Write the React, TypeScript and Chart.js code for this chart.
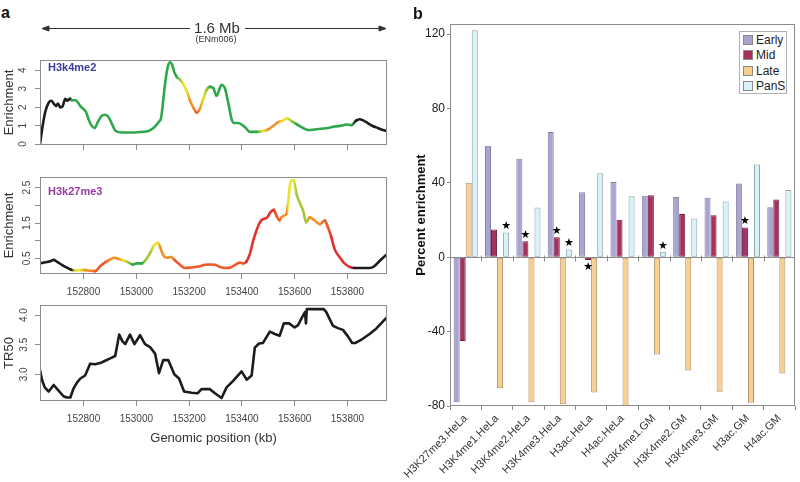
import React, { useEffect, useRef } from "react";
import { Chart, registerables } from "chart.js";

Chart.register(...registerables);

const FONT = '"Liberation Sans", Arial, Helvetica, sans-serif';
Chart.defaults.font.family = FONT;

// ---------------- Panel a data ----------------
const genomicTicks = [152800, 153000, 153200, 153400, 153600, 153800];
const h3k4me2Ticks = [0, 1, 2, 3, 4];
const h3k27me3Ticks = [0.5, 1.0, 1.5, 2.0, 2.5];
const h3k27me3Labelled = [0.5, 1.5, 2.5];
const tr50Ticks = [3.0, 3.5, 4.0];

const h3k4me2Pos = [
  152635, 152643, 152655, 152668, 152678, 152687, 152696, 152703, 152712, 152721,
  152731, 152738, 152749, 152756, 152769, 152779, 152788, 152800, 152809, 152819,
  152829, 152842, 152854, 152867, 152882, 152895, 152907, 152922, 152945, 152970,
  152995, 153021, 153046, 153065, 153084, 153094, 153102, 153111, 153121, 153129,
  153136, 153144, 153153, 153166, 153178, 153191, 153203, 153216, 153229, 153241,
  153254, 153266, 153279, 153291, 153304, 153314, 153323, 153336, 153344, 153352,
  153361, 153370, 153386, 153402, 153415, 153430, 153455, 153480, 153499, 153518,
  153537, 153556, 153571, 153588, 153607, 153626, 153651, 153676, 153701, 153726,
  153751, 153777, 153796, 153815, 153833, 153846, 153858, 153877, 153896, 153915,
  153934, 153950,
];
const h3k4me2Val = [
  0.0, 0.8, 1.75, 2.25, 2.35, 2.2, 2.06, 2.2, 1.98, 2.06,
  2.46, 2.35, 2.46, 2.38, 2.38, 2.25, 2.06, 1.9, 1.75, 1.35,
  1.03, 0.87, 1.19, 1.5, 1.59, 1.46, 1.11, 0.71, 0.63, 0.63,
  0.63, 0.66, 0.71, 0.87, 1.19, 1.43, 2.38, 3.49, 4.29, 4.44,
  4.29, 3.9, 3.65, 3.49, 3.25, 2.86, 2.38, 1.98, 1.71, 1.9,
  2.46, 2.94, 3.1, 3.05, 2.62, 2.94, 3.22, 3.01, 2.54, 1.98,
  1.35, 1.14, 1.14, 1.03, 0.87, 0.66, 0.66, 0.71, 0.79, 0.98,
  1.19, 1.27, 1.4, 1.24, 1.08, 0.92, 0.76, 0.79, 0.83, 0.87,
  0.95, 1.0, 1.06, 1.03, 1.27, 1.35, 1.3, 1.14, 0.98, 0.87,
  0.76, 0.71,
];
// replication timing class per point: K none, G early, L early-mid, Y mid, O mid-late, S late-ish, R late
const h3k4me2Timing =
  "KKKKKKKKKKKKK" + "GGGGGGGGGGGGGGGGGGGGGGGGGGGGGG" + "LYYOOSOYL" +
  "GGGGGGGGGGGGGGG" + "YOOOYYL" + "GGGGGGGGGG" + "KKKKKKKK";

const h3k27me3Pos = [
  152635, 152655, 152674, 152687, 152699, 152718, 152737, 152753, 152769, 152788,
  152806, 152825, 152844, 152863, 152882, 152901, 152917, 152932, 152951, 152970,
  152985, 153002, 153021, 153036, 153052, 153068, 153081, 153090, 153102, 153115,
  153132, 153147, 153166, 153184, 153203, 153222, 153241, 153260, 153279, 153298,
  153317, 153336, 153355, 153373, 153392, 153405, 153418, 153430, 153443, 153455,
  153468, 153480, 153496, 153508, 153521, 153531, 153543, 153550, 153559, 153569,
  153575, 153581, 153588, 153596, 153607, 153619, 153632, 153644, 153657, 153676,
  153695, 153714, 153726, 153739, 153751, 153770, 153789, 153808, 153827, 153852,
  153884, 153902, 153921, 153950,
];
const h3k27me3Val = [
  0.36, 0.39, 0.42, 0.46, 0.41, 0.32, 0.24, 0.18, 0.16, 0.17,
  0.17, 0.15, 0.14, 0.28, 0.39, 0.47, 0.52, 0.49, 0.44, 0.39,
  0.33, 0.36, 0.36, 0.46, 0.65, 0.87, 0.94, 0.82, 0.59, 0.52,
  0.54, 0.44, 0.32, 0.23, 0.24, 0.26, 0.28, 0.32, 0.33, 0.32,
  0.26, 0.23, 0.24, 0.31, 0.38, 0.36, 0.42, 0.62, 1.0, 1.28,
  1.52, 1.61, 1.66, 1.8, 1.87, 1.71, 1.57, 1.66, 1.71, 1.76,
  2.04, 2.5, 2.71, 2.71, 2.32, 2.08, 1.85, 1.52, 1.66, 1.57,
  1.47, 1.57, 1.38, 1.1, 0.77, 0.54, 0.36, 0.26, 0.23, 0.23,
  0.23, 0.28, 0.42, 0.62,
];
const h3k27me3Timing =
  "KKKKKKKK" + "YYOOSSSOOOYLGGGLLYYOOOOSS" + "SSSSSSSSSSSSS" + "RRRRRRRRR" +
  "SS" + "OOO" + "YYYY" + "LLLL" + "OOO" + "SS" + "RRRRR" + "KKKKKK";

const tr50Pos = [
  152635, 152643, 152653, 152668, 152687, 152706, 152724, 152737, 152750, 152762,
  152775, 152788, 152806, 152825, 152844, 152863, 152882, 152901, 152920, 152935,
  152947, 152958, 152976, 152993, 153014, 153033, 153052, 153071, 153086, 153102,
  153121, 153144, 153162, 153181, 153210, 153232, 153247, 153279, 153298, 153323,
  153342, 153367, 153399, 153418, 153437, 153449, 153465, 153480, 153506, 153525,
  153543, 153559, 153579, 153600, 153613, 153629, 153639, 153643, 153646, 153661,
  153710, 153720, 153745, 153764, 153783, 153802, 153818, 153831, 153858, 153884,
  153909, 153943, 153950,
];
const tr50Val = [
  3.07, 2.9, 2.78, 2.71, 2.82, 2.72, 2.63, 2.61, 2.61, 2.76,
  2.86, 2.93, 2.98, 3.18, 3.17, 3.19, 3.23, 3.27, 3.31, 3.67,
  3.56, 3.51, 3.67, 3.51, 3.66, 3.51, 3.46, 3.35, 3.02, 3.24,
  3.24, 3.0, 2.93, 2.71, 2.69, 2.68, 2.75, 2.75, 2.68, 2.6,
  2.78, 2.89, 3.05, 2.91, 2.98, 3.45, 3.52, 3.53, 3.72, 3.68,
  3.65, 3.86, 3.86, 3.79, 3.83, 3.97, 4.05, 3.86, 4.1, 4.1,
  4.1, 4.05, 3.82, 3.78, 3.75, 3.64, 3.53, 3.53, 3.6, 3.68,
  3.77, 3.93, 3.96,
];

const TIMING_COLORS: Record<string, string> = {
  K: "#1c1c1c",
  G: "#2ea84a",
  L: "#a3c83a",
  Y: "#ebe12f",
  O: "#f29029",
  S: "#ee5a2a",
  R: "#e2322c",
};

// ---------------- Panel b data ----------------
const categories = [
  "H3K27me3.HeLa", "H3K4me1.HeLa", "H3K4me2.HeLa", "H3K4me3.HeLa", "H3ac.HeLa",
  "H4ac.HeLa", "H3K4me1.GM", "H3K4me2.GM", "H3K4me3.GM", "H3ac.GM", "H4ac.GM",
];
const seriesNames = ["Early", "Mid", "Late", "PanS"];
const earlyVals = [-78, 60, 53, 67.3, 34.9, 40.5, 33, 32.4, 32, 39.6, 26.9];
const midVals = [-45, 14.9, 8.6, 10.7, -1.5, 20.2, 33.3, 23.3, 22.6, 16, 31];
const lateVals = [40.1, -70.5, -78, -79, -72.7, -80.5, -52.3, -60.9, -72.3, -78.2, -62.5];
const pansVals = [122, 13.3, 26.7, 4.1, 45.1, 32.8, 2.9, 20.8, 29.9, 49.8, 36.1];
const percentTicks = [-80, -40, 0, 40, 80, 120];
// significance stars: [category index, series index]
const starMarks = [[1, 3], [2, 1], [3, 1], [3, 3], [4, 1], [6, 3], [9, 1]];

const seriesFill = ["#a9a4d4", "#a8305f", "#f9cf90", "#d9f1f8"];
const seriesEdge = ["#858198", "#6e2040", "#a99070", "#8ea2a8"];

// ---------------- plugins ----------------
const boxPlugin = {
  id: "boxFrame",
  afterDraw(chart: any) {
    const { ctx, chartArea: a } = chart;
    ctx.save();
    ctx.strokeStyle = "#8c8c8c";
    ctx.lineWidth = 1;
    ctx.strokeRect(
      Math.round(a.left) + 0.5,
      Math.round(a.top) + 0.5,
      Math.round(a.right - a.left) - 1,
      Math.round(a.bottom - a.top) - 1
    );
    ctx.restore();
  },
};

const zeroLinePlugin = {
  id: "zeroLine",
  afterDatasetsDraw(chart: any) {
    const { ctx, chartArea: a, scales } = chart;
    const y0 = Math.round(scales.y.getPixelForValue(0)) + 0.5;
    ctx.save();
    ctx.strokeStyle = "#8c8c8c";
    ctx.lineWidth = 1;
    ctx.beginPath();
    ctx.moveTo(a.left, y0);
    ctx.lineTo(a.right, y0);
    for (let i = 1; i < categories.length; i++) {
      const xb =
        Math.round((scales.x.getPixelForValue(i - 1) + scales.x.getPixelForValue(i)) / 2) + 0.5;
      ctx.moveTo(xb, y0 - 2);
      ctx.lineTo(xb, y0 + 4);
    }
    ctx.stroke();
    ctx.restore();
  },
};

const starPlugin = {
  id: "stars",
  afterDatasetsDraw(chart: any) {
    const { ctx } = chart;
    ctx.save();
    ctx.fillStyle = "#000";
    ctx.font = '11px "DejaVu Sans", sans-serif';
    ctx.textAlign = "center";
    ctx.textBaseline = "middle";
    for (const [c, s] of starMarks) {
      const el: any = chart.getDatasetMeta(s).data[c];
      const v = chart.data.datasets[s].data[c] as number;
      const y = v >= 0 ? el.y - 6 : el.y + 7;
      ctx.fillText("\u2605", el.x, y);
    }
    ctx.restore();
  },
};

// ---------------- config builders ----------------
function lineConfig(p: any) {
  const data = p.pos.map((x: number, i: number) => ({ x, y: p.val[i] }));
  const ds: any = {
    data,
    borderColor: "#1c1c1c",
    borderWidth: 2.6,
    pointRadius: 0,
    borderCapStyle: "round",
    borderJoinStyle: "round",
    tension: 0,
  };
  if (p.smooth) ds.cubicInterpolationMode = "monotone";
  if (p.timing) {
    ds.segment = {
      borderColor: (ctx: any) => {
        const a = TIMING_COLORS[p.timing[ctx.p0DataIndex]];
        const b = TIMING_COLORS[p.timing[ctx.p1DataIndex]];
        if (a === b) return a;
        const g = ctx.chart.ctx.createLinearGradient(ctx.p0.x, 0, ctx.p1.x, 0);
        g.addColorStop(0, a);
        g.addColorStop(1, b);
        return g;
      },
    };
  }
  return {
    type: "line",
    data: { datasets: [ds] },
    options: {
      animation: false,
      responsive: false,
      events: [],
      layout: { padding: { top: p.padTop, right: 13, left: 0, bottom: 0 } },
      plugins: { legend: { display: false }, tooltip: { enabled: false } },
      scales: {
        x: {
          type: "linear",
          bounds: "data",
          min: 152635,
          max: 153950,
          afterBuildTicks: (s: any) => {
            s.ticks = genomicTicks.map((v) => ({ value: v }));
          },
          afterFit: (s: any) => {
            s.height = p.xAxisH;
          },
          ticks: {
            display: p.showX,
            autoSkip: false,
            minRotation: 0,
            maxRotation: 0,
            padding: 7,
            color: "#444",
            font: { size: 10 },
            callback: (v: any) => String(v),
          },
          grid: { drawOnChartArea: false, drawTicks: true, tickLength: 5, color: "#8c8c8c" },
          border: { display: false },
          title: {
            display: !!p.xTitle,
            text: p.xTitle || "",
            color: "#333",
            font: { size: 13 },
            padding: { top: 0, bottom: 0 },
          },
        },
        y: {
          type: "linear",
          bounds: "data",
          min: p.yMin,
          max: p.yMax,
          afterBuildTicks: (s: any) => {
            s.ticks = p.yTicks.map((v: number) => ({ value: v }));
          },
          afterFit: (s: any) => {
            s.width = 40;
          },
          ticks: {
            autoSkip: false,
            minRotation: 90,
            maxRotation: 90,
            crossAlign: "center",
            padding: p.yPad,
            color: "#444",
            font: { size: 10 },
            callback: p.yFmt,
          },
          grid: { drawOnChartArea: false, drawTicks: true, tickLength: 5, color: "#8c8c8c" },
          border: { display: false },
          title: {
            display: true,
            text: p.yTitle,
            color: "#333",
            font: { size: 13 },
            padding: { top: 2, bottom: 0 },
          },
        },
      },
    },
    plugins: [boxPlugin],
  };
}

function barConfig() {
  const vals = [earlyVals, midVals, lateVals, pansVals];
  return {
    type: "bar",
    data: {
      labels: categories,
      datasets: seriesNames.map((name, i) => ({
        label: name,
        data: vals[i],
        backgroundColor: seriesFill[i],
        borderColor: seriesEdge[i],
        borderWidth: 1,
        borderSkipped: false,
        categoryPercentage: 0.77,
        barPercentage: 1.0,
      })),
    },
    options: {
      animation: false,
      responsive: false,
      events: [],
      layout: { padding: { top: 24, right: 5, left: 0, bottom: 0 } },
      plugins: { legend: { display: false }, tooltip: { enabled: false } },
      scales: {
        x: {
          afterFit: (s: any) => {
            s.height = 76;
          },
          ticks: {
            autoSkip: false,
            minRotation: 45,
            maxRotation: 45,
            padding: 2,
            color: "#333",
            font: { size: 11 },
          },
          grid: { offset: true, drawOnChartArea: false, drawTicks: true, tickLength: 4, color: "#8c8c8c" },
          border: { display: false },
        },
        y: {
          min: -80,
          max: 125.4,
          bounds: "data",
          afterBuildTicks: (s: any) => {
            s.ticks = percentTicks.map((v) => ({ value: v }));
          },
          afterFit: (s: any) => {
            s.width = 50;
          },
          ticks: { autoSkip: false, padding: 2, color: "#222", font: { size: 12 } },
          grid: { drawOnChartArea: false, drawTicks: true, tickLength: 3, color: "#8c8c8c" },
          border: { display: false },
          title: {
            display: true,
            text: "Percent enrichment",
            color: "#111",
            font: { size: 13, weight: "bold" },
            padding: { top: 14, bottom: 0 },
          },
        },
      },
    },
    plugins: [boxPlugin, zeroLinePlugin, starPlugin],
  };
}

function ChartCanvas({ left, top, width, height, make }: any) {
  const ref = useRef<HTMLCanvasElement>(null);
  useEffect(() => {
    const chart = new Chart(ref.current as any, make() as any);
    return () => chart.destroy();
  }, []);
  return (
    <canvas
      ref={ref}
      width={width}
      height={height}
      style={{ position: "absolute", left, top, width, height, display: "block" }}
    />
  );
}

const txt = (extra: any) => ({
  position: "absolute" as const,
  fontFamily: FONT,
  lineHeight: 1,
  whiteSpace: "nowrap" as const,
  ...extra,
});

export default function App() {
  return (
    <div
      style={{
        position: "fixed",
        left: 0,
        top: 0,
        width: 800,
        height: 482,
        background: "#fff",
        overflow: "hidden",
        fontFamily: FONT,
      }}
    >
      <ChartCanvas
        left={0}
        top={45}
        width={400}
        height={115}
        make={() =>
          lineConfig({
            pos: h3k4me2Pos,
            val: h3k4me2Val,
            timing: h3k4me2Timing,
            smooth: true,
            padTop: 7,
            xAxisH: 10,
            showX: false,
            yMin: -0.05,
            yMax: 4.56,
            yTicks: h3k4me2Ticks,
            yFmt: (v: any) => String(v),
            yPad: 9,
            yTitle: "Enrichment",
          })
        }
      />
      <ChartCanvas
        left={0}
        top={165}
        width={400}
        height={135}
        make={() =>
          lineConfig({
            pos: h3k27me3Pos,
            val: h3k27me3Val,
            timing: h3k27me3Timing,
            smooth: true,
            padTop: 12,
            xAxisH: 26,
            showX: true,
            yMin: 0.06,
            yMax: 2.8,
            yTicks: h3k27me3Ticks,
            yFmt: (v: any) => (h3k27me3Labelled.includes(v) ? v.toFixed(1) : ""),
            yPad: 1,
            yTitle: "Enrichment",
          })
        }
      />
      <ChartCanvas
        left={0}
        top={295}
        width={400}
        height={151}
        make={() =>
          lineConfig({
            pos: tr50Pos,
            val: tr50Val,
            timing: null,
            smooth: false,
            padTop: 8,
            xAxisH: 45,
            showX: true,
            xTitle: "Genomic position (kb)",
            yMin: 2.55,
            yMax: 4.17,
            yTicks: tr50Ticks,
            yFmt: (v: any) => Number(v).toFixed(1),
            yPad: 4,
            yTitle: "TR50",
          })
        }
      />
      <ChartCanvas left={400} top={0} width={400} height={482} make={barConfig} />

      {/* panel letters */}
      <div style={txt({ left: 1, top: 5, fontSize: 16, fontWeight: "bold", color: "#111" })}>a</div>
      <div style={txt({ left: 413, top: 6, fontSize: 16, fontWeight: "bold", color: "#111" })}>b</div>

      {/* region arrow */}
      <svg
        width={800}
        height={60}
        style={{ position: "absolute", left: 0, top: 0, pointerEvents: "none" }}
      >
        <g stroke="#333" strokeWidth={1} fill="#333">
          <line x1={43} y1={28.5} x2={190} y2={28.5} />
          <line x1={245} y1={28.5} x2={385} y2={28.5} />
          <polygon points="42,28.5 49,26 49,31" />
          <polygon points="386,28.5 379,26 379,31" />
        </g>
      </svg>
      <div style={txt({ left: 0, width: 434, textAlign: "center", top: 19.7, fontSize: 15, color: "#333" })}>
        1.6 Mb
      </div>
      <div style={txt({ left: 0, width: 432, textAlign: "center", top: 35.4, fontSize: 9, color: "#333" })}>
        (ENm006)
      </div>

      {/* track labels */}
      <div style={txt({ left: 48, top: 61.6, fontSize: 11, fontWeight: "bold", color: "#3b3b9e" })}>
        H3k4me2
      </div>
      <div style={txt({ left: 48, top: 185.6, fontSize: 11, fontWeight: "bold", color: "#9b3aa6" })}>
        H3k27me3
      </div>

      {/* legend of panel b */}
      <div
        style={{
          position: "absolute",
          left: 739,
          top: 31,
          width: 48,
          height: 63,
          border: "1px solid #b0b0b0",
          boxSizing: "border-box",
          background: "#fff",
        }}
      >
        {seriesNames.map((name, i) => (
          <div
            key={name}
            style={{
              position: "absolute",
              left: 3,
              top: 1 + i * 15.3,
              height: 14,
              display: "flex",
              alignItems: "center",
              fontFamily: FONT,
              fontSize: 12,
              color: "#222",
              lineHeight: 1,
            }}
          >
            <span
              style={{
                display: "inline-block",
                width: 8,
                height: 8,
                border: "1px solid #888",
                background: seriesFill[i],
                marginRight: 3,
              }}
            />
            {name}
          </div>
        ))}
      </div>
    </div>
  );
}
